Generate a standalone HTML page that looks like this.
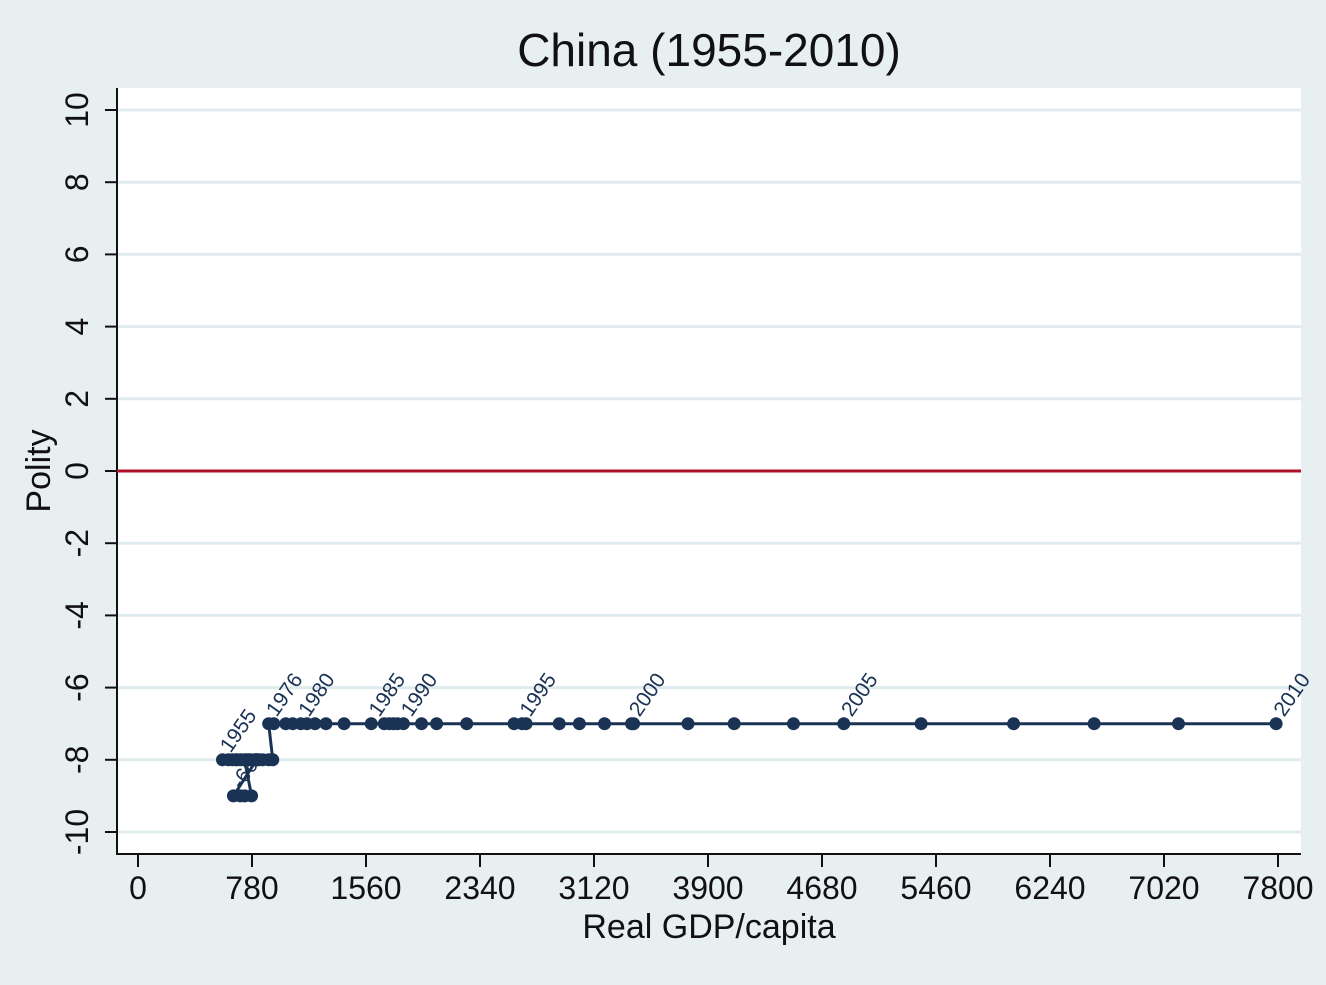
<!DOCTYPE html>
<html><head><meta charset="utf-8"><style>
body{margin:0;background:#e7eff1;}
svg{display:block;font-family:"Liberation Sans",sans-serif;}
</style></head><body>
<svg id="chart" width="1326" height="985" viewBox="0 0 1326 985">
<rect x="0" y="0" width="1326" height="985" fill="#e7eff1"/>
<text x="709" y="66" font-size="46" text-anchor="middle" fill="#111">China (1955-2010)</text>
<rect x="117" y="88" width="1184" height="766" fill="#fff"/>
<g id="grid"></g>
<g id="axes"></g>
<g id="series"></g>
<text x="709" y="938" font-size="34" text-anchor="middle" fill="#111">Real GDP/capita</text>
<text transform="translate(50,471) rotate(-90)" font-size="34" text-anchor="middle" fill="#111">Polity</text>
</svg>
<script>
const years=[1955,1956,1957,1958,1959,1960,1961,1962,1963,1964,1965,1966,1967,1968,1969,1970,1971,1972,1973,1974,1975,1976,1977,1978,1979,1980,1981,1982,1983,1984,1985,1986,1987,1988,1989,1990,1991,1992,1993,1994,1995,1996,1997,1998,1999,2000,2001,2002,2003,2004,2005,2006,2007,2008,2009,2010];
const gdp=[578,619,674,757,798,826,702,647,674,743,812,653,700,730,777,729,770,812,853,894,922,894,929,1011,1059,1114,1156,1211,1286,1410,1596,1685,1720,1747,1775,1816,1940,2043,2249,2573,2628,2655,2882,3020,3192,3377,3391,3763,4079,4485,4829,5358,5991,6542,7119,7787];
const polity=[-8,-8,-8,-8,-8,-8,-8,-8,-8,-8,-8,-9,-9,-9,-9,-8,-8,-8,-8,-8,-8,-7,-7,-7,-7,-7,-7,-7,-7,-7,-7,-7,-7,-7,-7,-7,-7,-7,-7,-7,-7,-7,-7,-7,-7,-7,-7,-7,-7,-7,-7,-7,-7,-7,-7,-7];
const labeledYears=[1955,1966,1976,1980,1985,1990,1995,2000,2005,2010];
const xTicks=[0,780,1560,2340,3120,3900,4680,5460,6240,7020,7800];
const yTicks=[-10,-8,-6,-4,-2,0,2,4,6,8,10];
const NS="http://www.w3.org/2000/svg";
const X=v=>138+v*(1140/7800);
const Y=v=>471-v*36.1;
function mk(tag,attrs,parent){const e=document.createElementNS(NS,tag);for(const k in attrs)e.setAttribute(k,attrs[k]);parent.appendChild(e);return e;}
const grid=document.getElementById('grid'),axes=document.getElementById('axes'),ser=document.getElementById('series');
yTicks.forEach(t=>{
  if(t!==0){const g=mk('line',{x1:117,x2:1301,y1:Y(t),y2:Y(t),stroke:'#e0ebee','stroke-width':3},grid);
  
  }
  const tk=mk('line',{x1:105,x2:117,y1:Y(t),y2:Y(t),stroke:'#111','stroke-width':2},axes);
  
  
  const tx=mk('text',{transform:`translate(88,${Y(t)}) rotate(-90)`,'font-size':32,'text-anchor':'middle',fill:'#111'},axes);
  tx.textContent=t;
  
  
});
xTicks.forEach(t=>{
  const tk=mk('line',{x1:X(t),x2:X(t),y1:854,y2:867,stroke:'#111','stroke-width':2},axes);
  
  
  const tx=mk('text',{x:X(t),y:899,'font-size':32,'text-anchor':'middle',fill:'#111'},axes);
  tx.textContent=t;
  
  
});
const ax1=mk('line',{x1:117,x2:117,y1:88,y2:855,stroke:'#111','stroke-width':2},axes);


const ax2=mk('line',{x1:116,x2:1301,y1:854,y2:854,stroke:'#111','stroke-width':2},axes);


const zl=mk('line',{x1:117,x2:1301,y1:Y(0),y2:Y(0),stroke:'#b0102a','stroke-width':3},axes);


const pts=gdp.map((g,i)=>X(g)+','+Y(polity[i])).join(' ');
const pl=mk('polyline',{points:pts,fill:'none',stroke:'#1a3355','stroke-width':3},ser);


gdp.forEach((g,i)=>{
  const c=mk('circle',{cx:X(g),cy:Y(polity[i]),r:6.5,fill:'#1a3355'},ser);
  
  
});
labeledYears.forEach(yr=>{
  const i=years.indexOf(yr);
  const x=X(gdp[i])+8,y=Y(polity[i])-6;
  const t=mk('text',{transform:`translate(${x},${y}) rotate(-55)`,'font-size':21,fill:'#1a3355'},ser);
  t.textContent=yr===1966?'-66':yr;
  
  
});
</script>
</body></html>
